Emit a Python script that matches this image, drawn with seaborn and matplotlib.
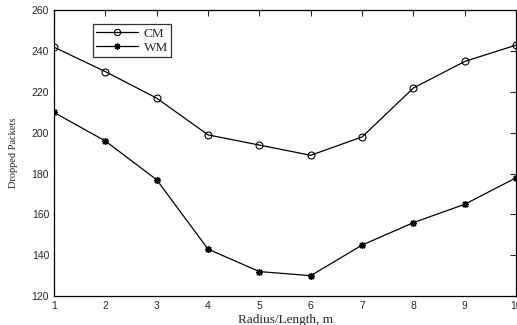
import matplotlib
matplotlib.use("Agg")
import matplotlib.pyplot as plt
import seaborn as sns
import pandas as pd
from matplotlib.lines import Line2D

radius = [1, 2, 3, 4, 5, 6, 7, 8, 9, 10]
cm = [242, 230, 217, 199, 194, 189, 198, 222, 235, 243]
wm = [210, 196, 177, 143, 132, 130, 145, 156, 165, 178]
yticks = [120, 140, 160, 180, 200, 220, 240, 260]

sns.set_style("white")
plt.rcParams['font.family'] = ['Liberation Sans', 'DejaVu Sans']

df = pd.DataFrame({
    "Radius": radius * 2,
    "Packets": cm + wm,
    "Method": ["CM"] * len(cm) + ["WM"] * len(wm),
})

fig = plt.figure(figsize=(5.17, 3.25), dpi=100)
ax = fig.add_axes([0.1044, 0.089, 0.894, 0.879])

star = (8, 2, 0)
sns.lineplot(data=df, x="Radius", y="Packets", hue="Method", style="Method",
             palette={"CM": "black", "WM": "black"},
             markers={"CM": "o", "WM": "*"}, dashes=False,
             linewidth=0.9, ax=ax, legend=False)
for line, m in zip(ax.lines, ["o", "*"]):
    if m == "o":
        line.set_markerfacecolor("none")
        line.set_markeredgecolor("black")
        line.set_markersize(5)
        line.set_markeredgewidth(0.8)
    else:
        line.set_marker(star)
        line.set_markerfacecolor("black")
        line.set_markeredgecolor("black")
        line.set_markersize(5)
        line.set_markeredgewidth(1.0)

ax.set_xlim(1, 10)
ax.set_ylim(120, 260)
ax.set_xticks(radius)
ax.set_yticks(yticks)
ax.tick_params(direction="in", top=True, right=True, labelsize=7.5, length=4, width=0.8)
for s in ax.spines.values():
    s.set_color("black")
    s.set_linewidth(0.9)
ax.set_xlabel("Radius/Length, m", family="Liberation Serif", fontsize=9.5, labelpad=2)
ax.set_ylabel("Dropped Packets", family="Liberation Serif", fontsize=7.5, labelpad=10)

handles = [
    Line2D([], [], color="black", marker="o", markerfacecolor="none", markersize=4.5, lw=0.9, markeredgewidth=0.8),
    Line2D([], [], color="black", marker=star, markersize=4.5, lw=0.9, markeredgewidth=1.0),
]
leg = ax.legend(handles, ["CM", "WM"], loc="upper left", bbox_to_anchor=(0.084, 0.952),
                prop={"family": "Liberation Serif", "size": 9.5}, frameon=True, fancybox=False,
                edgecolor="black", borderpad=0.25, handlelength=3.2, labelspacing=0.15,
                handletextpad=0.4, borderaxespad=0)
leg.get_frame().set_linewidth(0.9)

fig.savefig("out.png", dpi=100)
